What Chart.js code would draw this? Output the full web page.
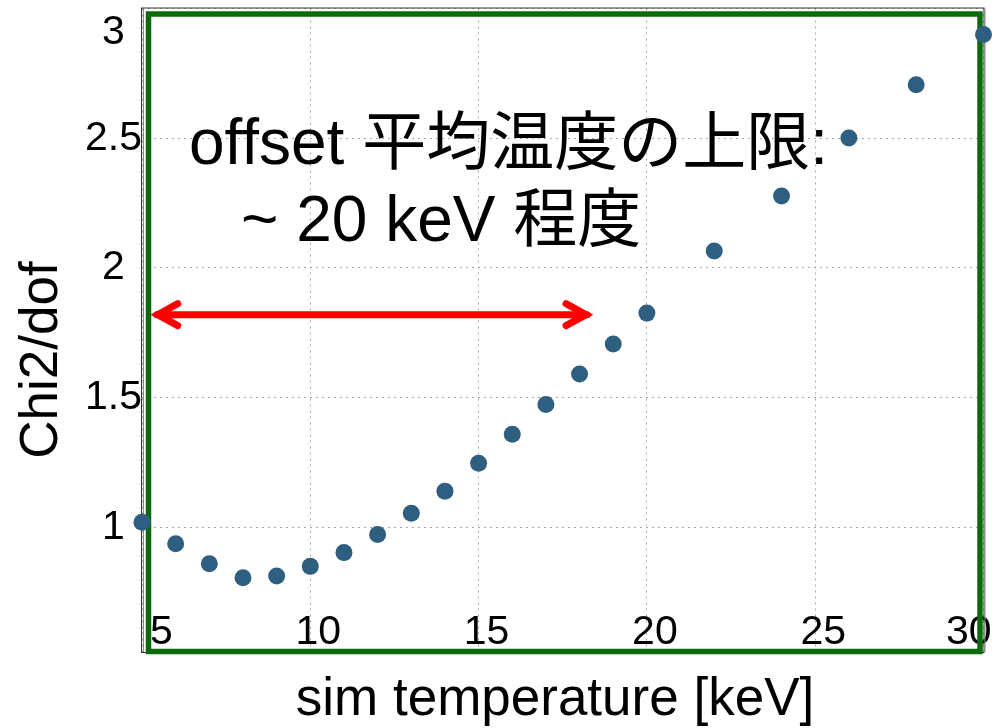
<!DOCTYPE html>
<html>
<head>
<meta charset="utf-8">
<script src="https://cdn.jsdelivr.net/npm/chart.js@4.4.0/dist/chart.umd.min.js"></script>
<style>
  html, body { margin: 0; padding: 0; background: #fff; }
  canvas { display: block; }
</style>
</head>
<body>
<canvas id="chi2Chart" width="992" height="728"></canvas>
<script>
const temps = [5, 6, 7, 8, 9, 10, 11, 12, 13, 14, 15, 16, 17, 18, 19, 20, 22, 24, 26, 28, 30];
const chi2dof = [1.02, 0.937, 0.86, 0.806, 0.813, 0.85, 0.903, 0.973, 1.055, 1.14, 1.247,
                 1.359, 1.474, 1.591, 1.707, 1.826, 2.065, 2.277, 2.501, 2.706, 2.90];
const xTicks = [5, 10, 15, 20, 25, 30];
const yTicks = [1, 1.5, 2, 2.5, 3];

// red double arrow: temperature span (keV) and the chi2 level it is drawn at
const arrowRange = [5.26, 18.4];
const arrowLevel = 1.82;
const noteLines = ['offset 平均温度の上限:', '~ 20 keV 程度'];

const FONT = '"Liberation Sans", Arial, "Noto Sans CJK JP", sans-serif';

function arrowHead(ctx, tipX, y, dir) {
  // dir = +1 for the left head (arms open to the right), -1 for the right head
  const vx = tipX + 7 * dir;
  ctx.beginPath();
  ctx.moveTo(vx + 20 * dir, y - 11);
  ctx.lineTo(vx, y);
  ctx.lineTo(vx + 20 * dir, y + 11);
  ctx.stroke();
}

const decorations = {
  id: 'decorations',
  beforeDatasetsDraw(chart) {
    const { ctx, chartArea: a } = chart;
    ctx.save();
    // thin black frame (doubled on the sides)
    ctx.lineWidth = 1;
    ctx.strokeStyle = '#333';
    ctx.strokeRect(a.left - 0.5, a.top - 0.5, a.right - a.left + 1, a.bottom - a.top + 1);
    ctx.strokeStyle = '#888';
    ctx.beginPath();
    ctx.moveTo(a.left + 1.5, a.top); ctx.lineTo(a.left + 1.5, a.bottom);
    ctx.moveTo(a.right + 1.5, a.top); ctx.lineTo(a.right + 1.5, a.bottom);
    ctx.stroke();
    // green box
    ctx.strokeStyle = '#0b6b0b';
    ctx.lineWidth = 5.5;
    ctx.strokeRect(a.left + 6.5, a.top + 5.5, a.right - a.left - 10, a.bottom - a.top - 6);
    ctx.restore();
  },
  afterDatasetsDraw(chart) {
    const { ctx, scales: { x, y } } = chart;
    const x0 = x.getPixelForValue(arrowRange[0]);
    const x1 = x.getPixelForValue(arrowRange[1]);
    const ya = y.getPixelForValue(arrowLevel);

    ctx.save();
    ctx.strokeStyle = '#ff0000';
    ctx.lineWidth = 7;
    ctx.lineCap = 'round';
    ctx.lineJoin = 'miter';
    ctx.beginPath();
    ctx.moveTo(x0 + 6, ya);
    ctx.lineTo(x1 - 6, ya);
    ctx.stroke();
    arrowHead(ctx, x0, ya, 1);
    arrowHead(ctx, x1, ya, -1);

    // annotation text
    ctx.fillStyle = '#000';
    ctx.textAlign = 'left';
    ctx.textBaseline = 'alphabetic';
    ctx.font = '64px ' + FONT;
    ctx.fillText(noteLines[0], 189, 164);
    ctx.fillText(noteLines[1], 241, 241);

    // axis titles
    ctx.font = '53px ' + FONT;
    ctx.textAlign = 'center';
    ctx.fillText('sim temperature [keV]', 555, 715);
    ctx.translate(42, 360);
    ctx.rotate(-Math.PI / 2);
    ctx.textBaseline = 'middle';
    ctx.fillText('Chi2/dof', 0, 0);
    ctx.restore();
  }
};

new Chart(document.getElementById('chi2Chart'), {
  type: 'scatter',
  data: {
    datasets: [{
      data: temps.map((t, i) => ({ x: t, y: chi2dof[i] })),
      backgroundColor: '#2f5f80',
      borderColor: '#2f5f80',
      borderWidth: 0,
      pointRadius: 8.5,
      pointHoverRadius: 8.5,
      clip: false
    }]
  },
  options: {
    responsive: false,
    animation: false,
    layout: { padding: { top: 7, right: 5, left: 0, bottom: 0 } },
    plugins: {
      legend: { display: false },
      tooltip: { enabled: false }
    },
    scales: {
      x: {
        type: 'linear',
        min: 5,
        max: 30,
        afterBuildTicks: s => { s.ticks = xTicks.map(v => ({ value: v })); },
        afterFit: s => { s.height = 76; s.paddingLeft = 0; s.paddingRight = 0; },
        grid: { color: '#a6a6a6', lineWidth: 1, drawTicks: false },
        border: { display: false, dash: [2, 4] },
        ticks: {
          // labels sit inside the plot, just above the bottom edge
          mirror: true,
          align: 'inner',
          labelOffset: 8,
          padding: -5,
          maxRotation: 0,
          autoSkip: false,
          color: '#000',
          font: { family: FONT, size: 41 }
        }
      },
      y: {
        min: 0.52,
        max: 3,
        afterBuildTicks: s => { s.ticks = yTicks.map(v => ({ value: v })); },
        afterFit: s => { s.width = 142; s.paddingTop = 0; s.paddingBottom = 0; },
        grid: { color: '#a6a6a6', lineWidth: 1, drawTicks: false },
        border: { display: false, dash: [2, 4] },
        ticks: {
          crossAlign: 'center',
          padding: 0,
          color: '#000',
          font: { family: FONT, size: 41 },
          // top label sits just below the frame corner
          callback: v => v === 3 ? ['', '3'] : String(v)
        }
      }
    }
  },
  plugins: [decorations]
});
</script>
</body>
</html>
